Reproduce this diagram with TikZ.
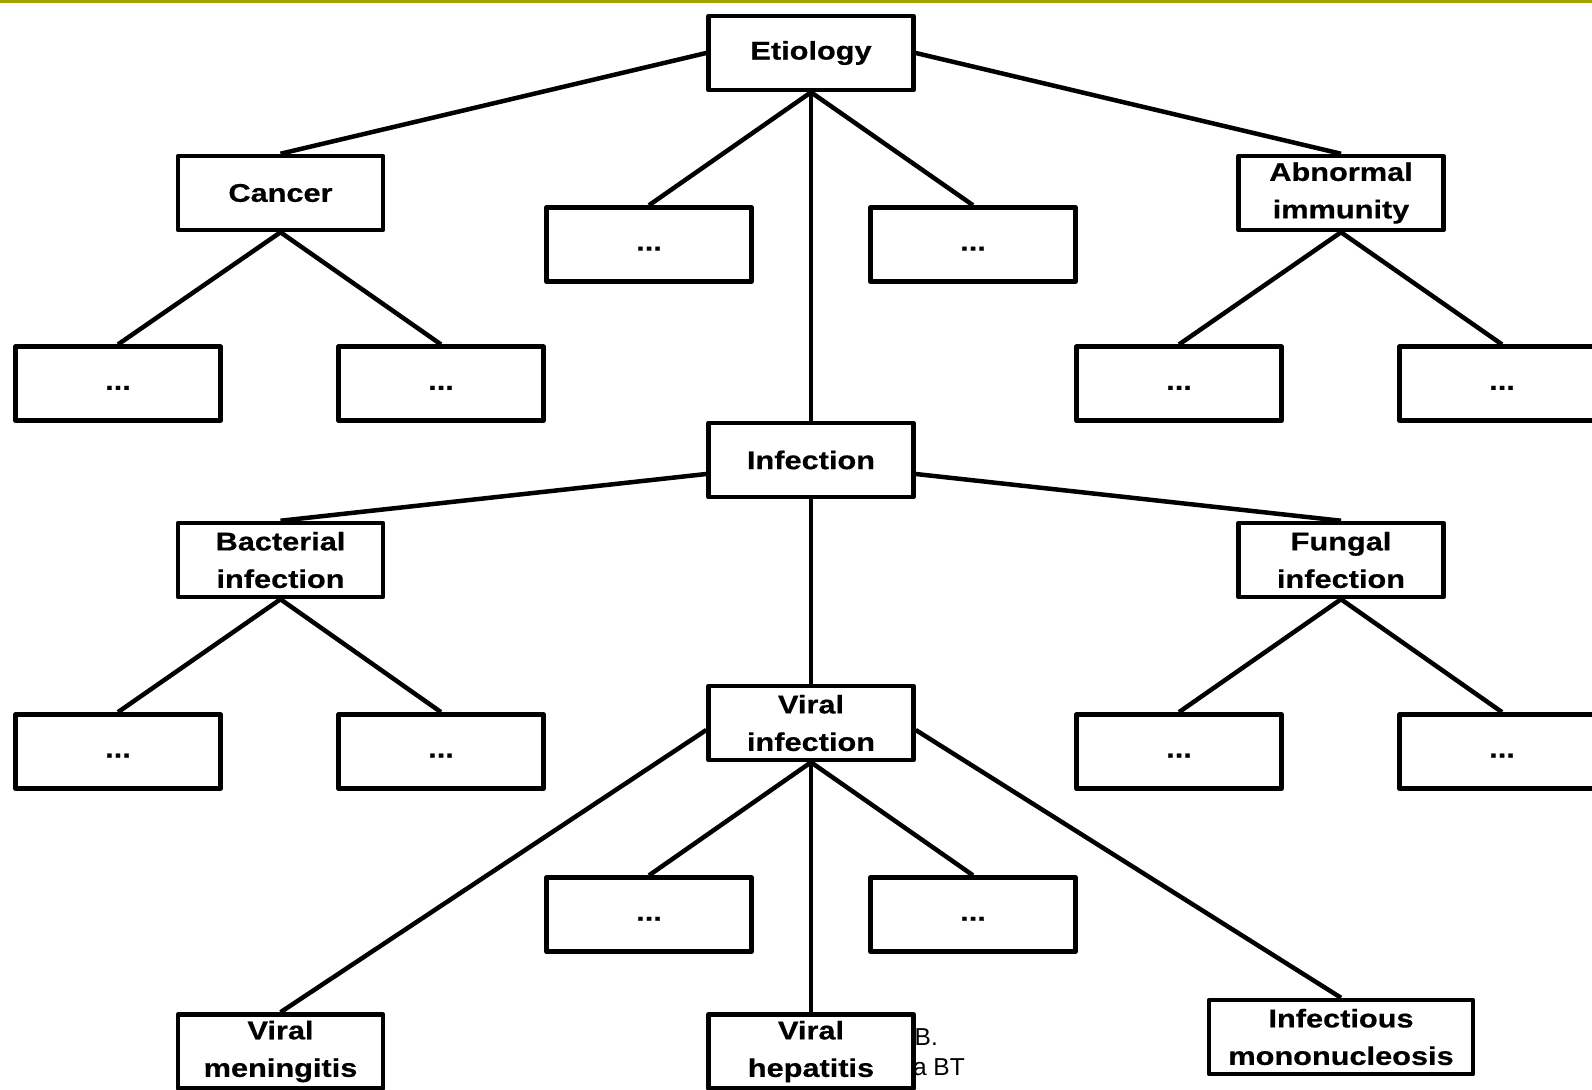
\documentclass[tikz,border=0pt]{standalone}
\usepackage{fontspec}
\setmainfont{Liberation Sans}
\newfontfamily\lblfont[FakeStretch=1.2, BoldFeatures={FakeStretch=1.2, FakeBold=0.6}]{Liberation Sans}
\newfontfamily\notefont{Liberation Sans}
\definecolor{olive}{RGB}{163,163,0}
\begin{document}
\begin{tikzpicture}[x=1pt,y=-1pt,
  box/.style={draw, line width=4.5pt, fill=white, line join=round,
    minimum width=205pt, minimum height=74pt, inner sep=0pt, align=center,
    font=\lblfont\bfseries\fontsize{25.6}{37.5}\selectfont},
  widebox/.style={box, minimum width=264pt},
  link/.style={line width=4.5pt},
  note/.style={inner sep=0pt, font=\notefont\fontsize{24.5}{28}\selectfont}]
\newcommand{\dotsbox}{\vphantom{Eg}...}
\clip (0,0) rectangle (1592,1089);
\fill[white] (0,0) rectangle (1592,1089);
\fill[olive] (0,0) rectangle (1592,3.5);
% partly hidden note behind the box
\node[note, anchor=base east] (n1) at (938,1045) {B.};
\node[note, anchor=base east] (n2) at (965,1075) {a BT};
% boxes
\node[box] (et) at (811,53) {Etiology};
\node[box] (cancer) at (280.5,193) {Cancer};
\node[box] (d1) at (649,244.5) {\dotsbox};
\node[box] (d2) at (973,244.5) {\dotsbox};
\node[box] (abn) at (1341,193) {Abnormal\\immunity};
\node[box] (c1) at (118,383.7) {\dotsbox};
\node[box] (c2) at (441,383.7) {\dotsbox};
\node[box] (a1) at (1179,383.7) {\dotsbox};
\node[box] (a2) at (1502,383.7) {\dotsbox};
\node[box] (inf) at (811,460) {Infection};
\node[box] (bac) at (280.5,560) {Bacterial\\infection};
\node[box] (fun) at (1341,560) {Fungal\\infection};
\node[box] (b1) at (118,751.4) {\dotsbox};
\node[box] (b2) at (441,751.4) {\dotsbox};
\node[box] (f1) at (1179,751.4) {\dotsbox};
\node[box] (f2) at (1502,751.4) {\dotsbox};
\node[box] (vir) at (811,723) {Viral\\infection};
\node[box] (v1) at (649,914.6) {\dotsbox};
\node[box] (v2) at (973,914.6) {\dotsbox};
\node[box] (vm) at (280.5,1051.5) {Viral\\meningitis};
\node[box] (vh) at (811,1051.5) {Viral\\hepatitis};
\node[widebox] (im) at (1341,1037) {Infectious\\mononucleosis};
% connectors
\draw[link] (et.west) -- (cancer.north);
\draw[link] (et.east) -- (abn.north);
\draw[link] (et.south) -- (d1.north);
\draw[link] (et.south) -- (d2.north);
\draw[link] (et.south) -- (inf.north);
\draw[link] (cancer.south) -- (c1.north);
\draw[link] (cancer.south) -- (c2.north);
\draw[link] (abn.south) -- (a1.north);
\draw[link] (abn.south) -- (a2.north);
\draw[link] ([yshift=-14pt]inf.west) -- (bac.north);
\draw[link] ([yshift=-14pt]inf.east) -- (fun.north);
\draw[link] (inf.south) -- (vir.north);
\draw[link] (bac.south) -- (b1.north);
\draw[link] (bac.south) -- (b2.north);
\draw[link] (fun.south) -- (f1.north);
\draw[link] (fun.south) -- (f2.north);
\draw[link] ([yshift=-7pt]vir.west) -- (vm.north);
\draw[link] ([yshift=-7pt]vir.east) -- (im.north);
\draw[link] (vir.south) -- (v1.north);
\draw[link] (vir.south) -- (v2.north);
\draw[link] (vir.south) -- (vh.north);
\end{tikzpicture}
\end{document}
